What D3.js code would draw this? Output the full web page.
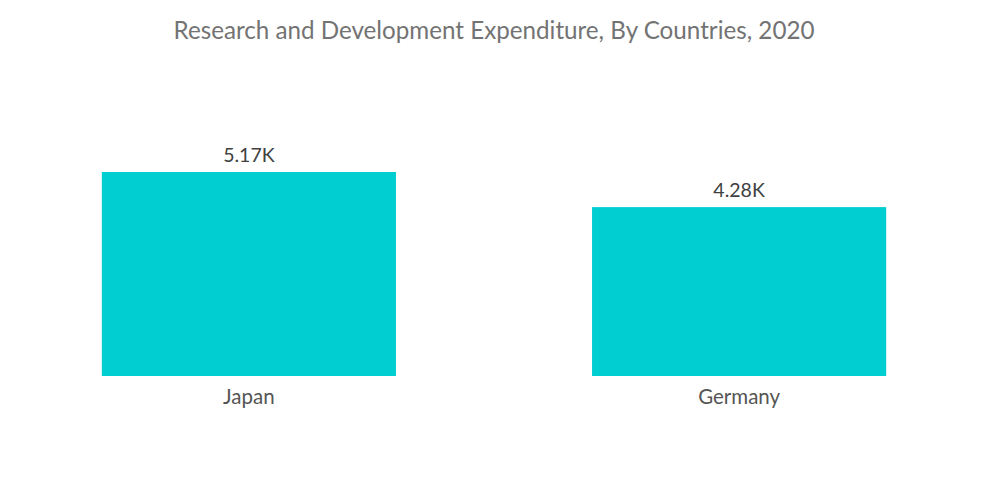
<!DOCTYPE html>
<html><head><meta charset="utf-8">
<script src="https://cdn.jsdelivr.net/npm/d3@7"></script>
<style>body{margin:0;background:#fff;}svg{display:block;}</style>
</head><body>
<svg id="c" width="1000" height="504"></svg>
<script>
const categories = ["Japan", "Germany"];
const values = [5.17, 4.28];
const valueLabels = ["5.17K", "4.28K"];
const title = "Research and Development Expenditure, By Countries, 2020";

const svg = d3.select("#c");
const font = "Lato, 'Open Sans', sans-serif";

const x = d3.scaleBand().domain(categories).range([3.8, 984.2]).paddingInner(0.4).paddingOuter(0.2);
const y = d3.scaleLinear().domain([0, 5.2]).range([376, 170.8]);

svg.append("text").attr("x", 494).attr("y", 39).attr("text-anchor", "middle")
  .attr("font-family", font).attr("font-size", 24.2).attr("fill", "#737373").text(title);

const data = categories.map((c, i) => ({c, v: values[i], l: valueLabels[i]}));

svg.selectAll("rect.bar").data(data).join("rect").attr("class", "bar")
  .attr("x", d => x(d.c)).attr("width", x.bandwidth())
  .attr("y", d => y(d.v)).attr("height", d => y(0) - y(d.v))
  .attr("fill", "#00ced1");

svg.selectAll("text.val").data(data).join("text").attr("class", "val")
  .attr("x", d => x(d.c) + x.bandwidth() / 2).attr("y", d => y(d.v) - 10)
  .attr("text-anchor", "middle").attr("font-family", font).attr("font-size", 19.5)
  .attr("fill", "#404040").text(d => d.l);

const xAxis = svg.append("g").attr("transform", "translate(0,376)")
  .call(d3.axisBottom(x).tickSize(0).tickPadding(13));
xAxis.select(".domain").remove();
xAxis.selectAll("text").attr("font-family", font).attr("font-size", 20.5).attr("fill", "#555");
</script>
</body></html>
